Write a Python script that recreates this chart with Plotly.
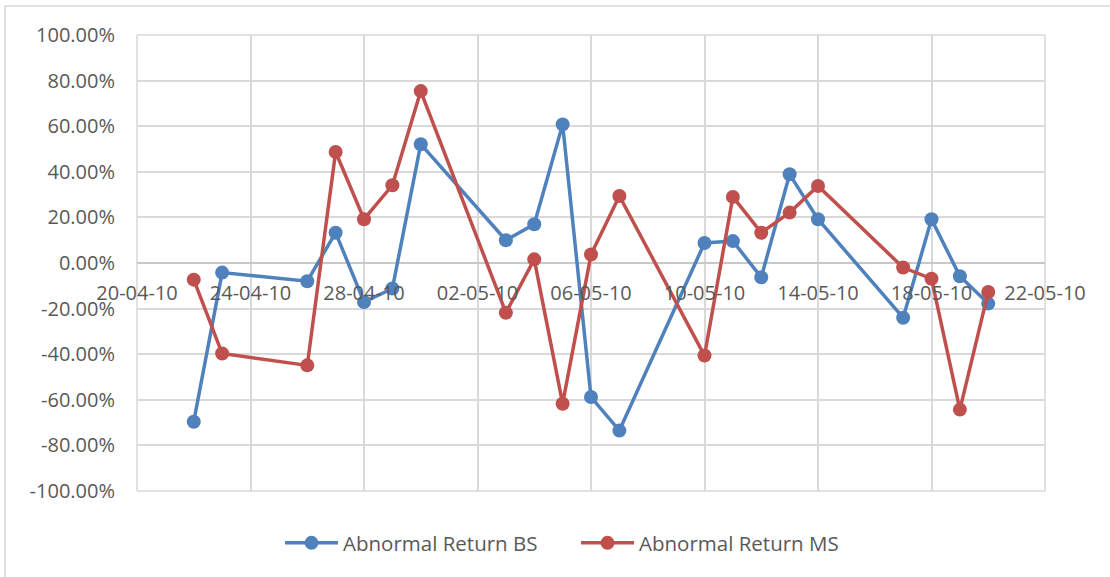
import plotly.graph_objects as go

dates = ["2010-04-22", "2010-04-23", "2010-04-26", "2010-04-27", "2010-04-28", "2010-04-29",
         "2010-04-30", "2010-05-03", "2010-05-04", "2010-05-05", "2010-05-06", "2010-05-07",
         "2010-05-10", "2010-05-11", "2010-05-12", "2010-05-13", "2010-05-14", "2010-05-17",
         "2010-05-18", "2010-05-19", "2010-05-20"]
abnormal_bs = [-0.696, -0.042, -0.080, 0.133, -0.171, -0.112, 0.521, 0.100, 0.170, 0.608,
               -0.588, -0.735, 0.088, 0.096, -0.063, 0.389, 0.192, -0.240, 0.192, -0.058, -0.178]
abnormal_ms = [-0.073, -0.397, -0.449, 0.487, 0.192, 0.341, 0.754, -0.218, 0.016, -0.617,
               0.037, 0.294, -0.406, 0.290, 0.133, 0.221, 0.338, -0.020, -0.069, -0.643, -0.127]
series_names = ["Abnormal Return BS", "Abnormal Return MS"]
series_colors = ["#4F81BD", "#C0504D"]
y_tick_vals = [1.0, 0.8, 0.6, 0.4, 0.2, 0.0, -0.2, -0.4, -0.6, -0.8, -1.0]
y_tick_labels = ["100.00%", "80.00%", "60.00%", "40.00%", "20.00%", "0.00%",
                 "-20.00%", "-40.00%", "-60.00%", "-80.00%", "-100.00%"]

FONT = "Open Sans"
TXT = "#595959"
GRID = "#D9D9D9"

fig = go.Figure()
for name, vals, col in zip(series_names, [abnormal_bs, abnormal_ms], series_colors):
    fig.add_trace(go.Scatter(
        x=dates, y=vals, name=name, mode="lines+markers",
        line=dict(color=col, width=3.5),
        marker=dict(color=col, size=14),
    ))

W, H = 1110, 577
L, R, T, B = 137, 65, 35, 86
pw, ph = W - L - R, H - T - B

def px_x(p):
    return (p - L) / pw

def px_y(p):
    return (H - B - p) / ph

fig.update_layout(
    width=W, height=H,
    margin=dict(l=L, r=R, t=T, b=B),
    paper_bgcolor="white", plot_bgcolor="white",
    font=dict(family=FONT, size=20, color=TXT),
    showlegend=True,
    legend=dict(orientation="h", x=px_x(280), xanchor="left", y=px_y(543), yanchor="middle",
                font=dict(family=FONT, size=20.5, color=TXT), itemwidth=53,
                entrywidth=228, entrywidthmode="pixels"),
    xaxis=dict(
        type="date",
        range=["2010-04-20", "2010-05-22"],
        tick0="2010-04-20", dtick=4 * 86400000,
        tickformat="%d-%m-%y",
        showgrid=True, gridcolor=GRID, gridwidth=1.5,
        showline=False, zeroline=False,
        anchor="free", position=0.5,
        ticks="", ticklabelstandoff=16,
        tickfont=dict(family=FONT, size=20, color=TXT),
    ),
    yaxis=dict(
        range=[-1, 1],
        tickmode="array", tickvals=y_tick_vals, ticktext=y_tick_labels,
        showgrid=True, gridcolor=GRID, gridwidth=1.5,
        zeroline=True, zerolinecolor="#C8C8C8", zerolinewidth=1.5,
        showline=False,
        ticks="", ticklabelstandoff=21,
        tickfont=dict(family=FONT, size=20, color=TXT),
    ),
    shapes=[
        dict(type="rect", xref="paper", yref="paper",
             x0=px_x(5), x1=px_x(1125), y0=px_y(600), y1=px_y(6),
             line=dict(color=GRID, width=1.5), fillcolor="rgba(0,0,0,0)", layer="below"),
        dict(type="line", xref="paper", yref="paper", x0=0, x1=0, y0=0, y1=1,
             line=dict(color=GRID, width=1.5), layer="below"),
        dict(type="line", xref="paper", yref="paper", x0=1, x1=1, y0=0, y1=1,
             line=dict(color=GRID, width=1.5), layer="below"),
        dict(type="line", xref="paper", yref="paper", x0=0, x1=1, y0=1, y1=1,
             line=dict(color=GRID, width=1.5), layer="below"),
        dict(type="line", xref="paper", yref="paper", x0=0, x1=1, y0=0, y1=0,
             line=dict(color=GRID, width=1.5), layer="below"),
    ],
)

fig.write_html("out.html", config={"displayModeBar": False},
               post_script="document.body.style.margin='0px';")
